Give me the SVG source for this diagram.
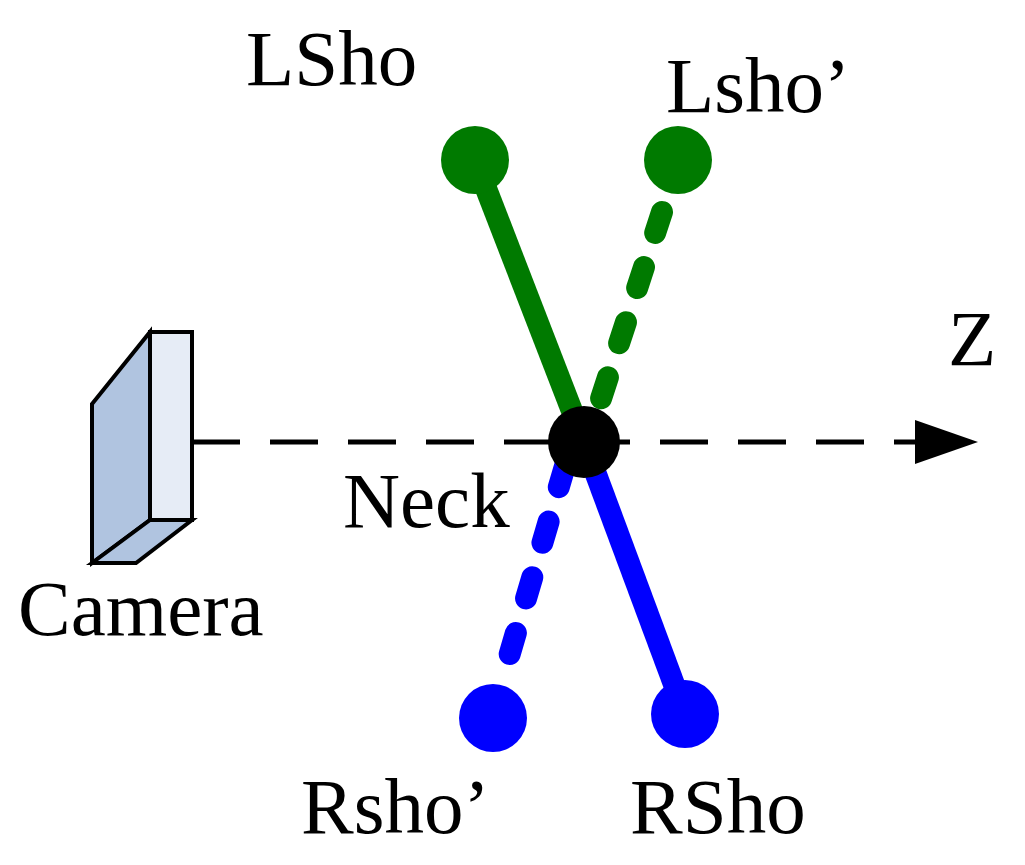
<svg xmlns="http://www.w3.org/2000/svg" width="1025" height="865" viewBox="0 0 1025 865">
<style>
text{font-family:"Liberation Serif",serif;font-size:79px;fill:#000}
.cam{stroke:#000;stroke-width:4;stroke-linejoin:miter}
</style>
<rect width="1025" height="865" fill="#fff"/>
<g id="connectors">
<line x1="192" y1="442" x2="915" y2="442" stroke="#000" stroke-width="5" stroke-dasharray="48,30"/>
<polygon points="915,420 978,442 915,464" fill="#000"/>
<line x1="475" y1="160" x2="584" y2="442" stroke="#007a00" stroke-width="22"/>
<line x1="584" y1="442" x2="685" y2="714" stroke="#0000ff" stroke-width="22"/>
<line x1="662" y1="212" x2="594" y2="420" stroke="#007a00" stroke-width="22" stroke-linecap="round" stroke-dasharray="22,36"/>
<line x1="565" y1="466" x2="505" y2="670" stroke="#0000ff" stroke-width="22" stroke-linecap="round" stroke-dasharray="22,36"/>
</g>
<g id="camera">
<polygon class="cam" points="92,404 150,332 150,520 92,563" fill="#b0c4e0"/>
<polygon class="cam" points="92,563 150,520 192,520 136,563" fill="#b0c4e0"/>
<rect class="cam" x="150" y="332" width="42" height="188" fill="#e6ecf6"/>
<text x="18" y="635">Camera</text>
</g>
<g id="LSho"><circle cx="475" cy="160" r="34" fill="#007a00"/><text x="246" y="85">LSho</text></g>
<g id="Lsho2"><circle cx="678" cy="160" r="34" fill="#007a00"/><text x="666" y="112">Lsho’</text></g>
<g id="Neck"><circle cx="584" cy="442" r="36" fill="#000"/><text x="343" y="527">Neck</text></g>
<g id="Rsho2"><circle cx="493" cy="718" r="34" fill="#0000ff"/><text x="301" y="833">Rsho’</text></g>
<g id="RSho"><circle cx="685" cy="714" r="34" fill="#0000ff"/><text x="630" y="833">RSho</text></g>
<g id="Z"><text x="948" y="365">Z</text></g>
</svg>
